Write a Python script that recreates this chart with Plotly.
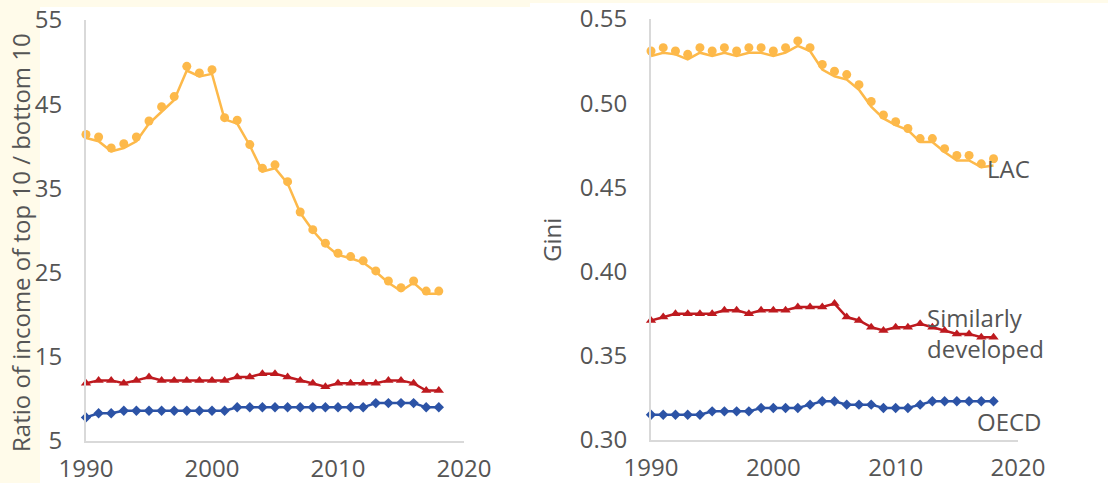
import plotly.graph_objects as go
from plotly.subplots import make_subplots

years = list(range(1990, 2019))

# Left panel: ratio of income of top 10 / bottom 10
lac_ratio_pts = [41.4, 41.1, 39.8, 40.3, 41.1, 43.0, 44.7, 45.9, 49.5, 48.7, 49.1, 43.4, 43.1, 40.2, 37.4,
                 37.8, 35.8, 32.2, 30.1, 28.5, 27.3, 26.9, 26.4, 25.2, 24.0, 23.2, 24.0, 22.8, 22.8]
lac_ratio_line = [41.0, 40.6, 39.4, 39.8, 40.6, 42.7, 44.1, 45.5, 49.0, 48.3, 48.6, 43.2, 42.7, 40.1, 37.0,
                  37.4, 35.6, 32.1, 30.0, 28.3, 27.1, 26.7, 26.2, 25.1, 23.8, 22.8, 23.8, 22.5, 22.5]
sim_ratio = [11.85, 12.2, 12.2, 11.85, 12.2, 12.6, 12.2, 12.2, 12.2, 12.2, 12.2, 12.2, 12.6, 12.6, 13.0,
             13.0, 12.6, 12.2, 11.85, 11.45, 11.85, 11.85, 11.85, 11.85, 12.2, 12.2, 11.85, 11.0, 11.0]
oecd_ratio = [7.8, 8.3, 8.3, 8.6, 8.6, 8.6, 8.6, 8.6, 8.6, 8.6, 8.6, 8.6, 9.0, 9.0, 9.0,
              9.0, 9.0, 9.0, 9.0, 9.0, 9.0, 9.0, 9.0, 9.5, 9.5, 9.5, 9.5, 9.0, 9.0]

# Right panel: Gini
lac_gini_pts = [0.531, 0.533, 0.531, 0.529, 0.533, 0.531, 0.533, 0.531, 0.533, 0.533, 0.531, 0.533, 0.537,
                0.533, 0.523, 0.519, 0.517, 0.511, 0.501, 0.493, 0.489, 0.485, 0.479, 0.479, 0.473, 0.469,
                0.469, 0.464, 0.467]
lac_gini_line = [0.528, 0.530, 0.529, 0.526, 0.530, 0.528, 0.530, 0.528, 0.530, 0.530, 0.528, 0.530, 0.534,
                 0.531, 0.520, 0.516, 0.514, 0.508, 0.498, 0.491, 0.487, 0.484, 0.477, 0.477, 0.471, 0.466,
                 0.466, 0.462, 0.463]
sim_gini = [0.371, 0.373, 0.375, 0.375, 0.375, 0.375, 0.377, 0.377, 0.375, 0.377, 0.377, 0.377, 0.379,
            0.379, 0.379, 0.381, 0.373, 0.371, 0.367, 0.365, 0.367, 0.367, 0.369, 0.367, 0.365, 0.363,
            0.363, 0.361, 0.361]
oecd_gini = [0.315, 0.315, 0.315, 0.315, 0.315, 0.317, 0.317, 0.317, 0.317, 0.319, 0.319, 0.319, 0.319,
             0.321, 0.323, 0.323, 0.321, 0.321, 0.321, 0.319, 0.319, 0.319, 0.321, 0.323, 0.323, 0.323,
             0.323, 0.323, 0.323]

x_ticks = [1990, 2000, 2010, 2020]
ratio_ticks = [5, 15, 25, 35, 45, 55]
gini_ticks = [0.30, 0.35, 0.40, 0.45, 0.50, 0.55]

ORANGE = "#FDB94A"
RED = "#BE1A1F"
BLUE = "#2C53A6"
GREY_TXT = "#555555"
AXIS = "#D9D9D9"
FONT = "Open Sans"

W, H = 1108, 483
fig = make_subplots(rows=1, cols=2)


def add_panel(col, lac_pts, lac_line, sim, oecd):
    fig.add_trace(go.Scatter(x=years, y=oecd, mode="lines+markers",
                             line=dict(color=BLUE, width=2.5),
                             marker=dict(symbol="diamond", size=8, color=BLUE),
                             cliponaxis=False, showlegend=False), row=1, col=col)
    fig.add_trace(go.Scatter(x=years, y=sim, mode="lines+markers",
                             line=dict(color=RED, width=2.5),
                             marker=dict(symbol="triangle-up", size=9, color=RED),
                             cliponaxis=False, showlegend=False), row=1, col=col)
    fig.add_trace(go.Scatter(x=years, y=lac_line, mode="lines",
                             line=dict(color=ORANGE, width=2.5),
                             cliponaxis=False, showlegend=False), row=1, col=col)
    fig.add_trace(go.Scatter(x=years, y=lac_pts, mode="markers",
                             marker=dict(symbol="circle", size=9, color=ORANGE),
                             cliponaxis=False, showlegend=False), row=1, col=col)


add_panel(1, lac_ratio_pts, lac_ratio_line, sim_ratio, oecd_ratio)
add_panel(2, lac_gini_pts, lac_gini_line, sim_gini, oecd_gini)

tickfont = dict(family=FONT, size=24, color=GREY_TXT)
common_x = dict(range=[1990, 2020], tickvals=x_ticks, showgrid=False, zeroline=False,
                showline=True, linecolor=AXIS, linewidth=2, ticks="outside", ticklen=5,
                tickcolor="rgba(0,0,0,0)", tickfont=tickfont, automargin=False)
common_y = dict(showgrid=False, zeroline=False, showline=True, linecolor=AXIS, linewidth=2,
                ticks="outside", ticklen=17, tickcolor="rgba(0,0,0,0)", tickfont=tickfont,
                automargin=False)

fig.update_layout(
    width=W, height=H,
    margin=dict(l=0, r=0, t=0, b=0, pad=0, autoexpand=False),
    paper_bgcolor="white", plot_bgcolor="white",
    xaxis=dict(common_x, domain=[86 / W, 464 / W], anchor="y"),
    yaxis=dict(common_y, range=[5, 55], tickvals=ratio_ticks, domain=[(H - 441) / H, (H - 20) / H],
               anchor="x"),
    xaxis2=dict(common_x, domain=[651 / W, 1018 / W], anchor="y2"),
    yaxis2=dict(common_y, range=[0.30, 0.55], tickvals=gini_ticks, tickformat=".2f",
                domain=[(H - 440) / H, (H - 19) / H], anchor="x2"),
    shapes=[
        dict(type="rect", xref="paper", yref="paper", x0=0, x1=40 / W, y0=0, y1=1,
             fillcolor="#FFFBEA", line_width=0, layer="below"),
        dict(type="rect", xref="paper", yref="paper", x0=0, x1=530 / W, y0=(H - 7) / H, y1=1,
             fillcolor="#FFFBEA", line_width=0, layer="below"),
        dict(type="rect", xref="paper", yref="paper", x0=530 / W, x1=1, y0=(H - 3) / H, y1=1,
             fillcolor="#FFFBEA", line_width=0, layer="below"),
    ],
)

lab_font = dict(family=FONT, size=24, color=GREY_TXT)
fig.add_annotation(text="Ratio of income of top 10 / bottom 10", xref="paper", yref="paper",
                   x=21 / W, y=(H - 243) / H, textangle=-90, showarrow=False,
                   xanchor="center", yanchor="middle", font=lab_font)
fig.add_annotation(text="Gini", xref="paper", yref="paper",
                   x=551 / W, y=(H - 240) / H, textangle=-90, showarrow=False,
                   xanchor="center", yanchor="middle", font=lab_font)
fig.add_annotation(text="LAC", xref="paper", yref="paper", x=985 / W, y=(H - 168) / H,
                   showarrow=False, xanchor="left", yanchor="middle", font=lab_font)
fig.add_annotation(text="Similarly<br>developed", xref="paper", yref="paper", x=925 / W,
                   y=(H - 333) / H, showarrow=False, xanchor="left", yanchor="middle",
                   align="left", font=lab_font)
fig.add_annotation(text="OECD", xref="paper", yref="paper", x=975 / W, y=(H - 421) / H,
                   showarrow=False, xanchor="left", yanchor="middle", font=lab_font)

fig.write_html("out.html", config={"displayModeBar": False},
               post_script="document.body.style.margin='0';")
